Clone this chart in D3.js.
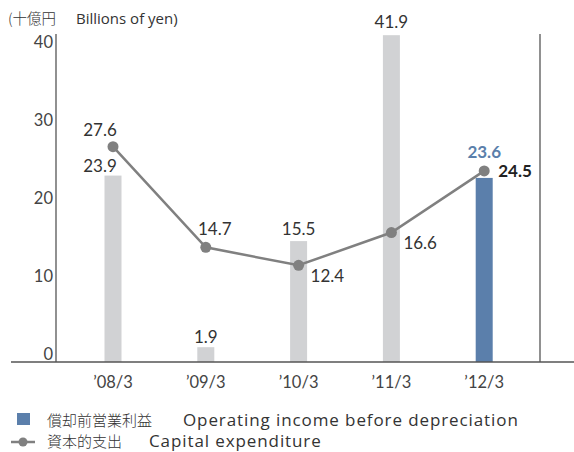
<!DOCTYPE html>
<html>
<head>
<meta charset="utf-8">
<script src="https://cdn.jsdelivr.net/npm/d3@7"></script>
<style>
  html, body { margin: 0; padding: 0; background: #fff; }
  svg { display: block; }
  text { font-family: Lato, "Noto Sans CJK JP", sans-serif; }
  .cjk { font-family: "Noto Sans CJK JP", sans-serif; font-weight: 300; }
  .en { font-family: "Open Sans", Lato, sans-serif; }
</style>
</head>
<body>
<svg id="chart" width="574" height="452"></svg>
<script>
// ---- data ----
const categories = ["’08/3", "’09/3", "’10/3", "’11/3", "’12/3"];
const operatingIncome = [23.9, 1.9, 15.5, 41.9, 23.6];      // bars
const capitalExpenditure = [27.6, 14.7, 12.4, 16.6, 24.5];  // line
const yTicks = [0, 10, 20, 30, 40];
const unitLabel = ["(十億円", "Billions of yen)"];
const legendBar = ["償却前営業利益", "Operating income before depreciation"];
const legendLine = ["資本的支出", "Capital expenditure"];

// ---- label placement (style, not data) ----
const barLabelOffset = [[-13, -4], [0, -4], [0, -6], [0, -7], [0, -20]];
const lineLabelOffset = [[-13, -11, "middle"], [9, -12, "middle"], [12, 17, "start"], [12, 16, "start"], [14, 6, "start"]];

const svg = d3.select("#chart");
const grey = "#d1d2d4", blue = "#5b7fab", lineCol = "#808080", axisCol = "#555";

const x = d3.scaleBand().domain(categories).range([66.6, 530.6]).padding(0);
const y = d3.scaleLinear().domain([0, 40]).range([362, 50]);
const barW = 17;
const cx = d => x(d) + x.bandwidth() / 2;

// unit label
svg.append("text").attr("class", "cjk").attr("x", 8).attr("y", 24).attr("font-size", 14.5).attr("fill", "#333").text(unitLabel[0]);
svg.append("text").attr("class", "en").attr("x", 76).attr("y", 24).attr("font-size", 15).attr("fill", "#333").text(unitLabel[1]);

// bars
svg.selectAll("rect.bar").data(categories).join("rect")
  .attr("class", "bar")
  .attr("x", d => cx(d) - barW / 2)
  .attr("width", barW)
  .attr("y", (d, i) => y(operatingIncome[i]))
  .attr("height", (d, i) => y(0) - y(operatingIncome[i]))
  .attr("fill", (d, i) => i === categories.length - 1 ? blue : grey);

// axes
const yAxis = d3.axisLeft(y).tickValues(yTicks).tickSize(0).tickPadding(3);
const gy = svg.append("g").attr("transform", "translate(56,0)").call(yAxis);
gy.select(".domain").remove();
gy.selectAll("text").attr("font-size", 16.5).attr("fill", "#444").attr("font-family", "Lato, sans-serif").attr("dy", "-0.15em");
svg.append("line").attr("x1", 56).attr("x2", 56).attr("y1", 34).attr("y2", y(0)).attr("stroke", axisCol).attr("stroke-width", 1.3);
svg.append("line").attr("x1", 540).attr("x2", 540).attr("y1", 34).attr("y2", y(0)).attr("stroke", axisCol).attr("stroke-width", 1.3);

const xAxis = d3.axisBottom(x).tickSize(0).tickPadding(14);
const gx = svg.append("g").attr("transform", `translate(0,${y(0)})`).call(xAxis);
gx.select(".domain").remove();
gx.selectAll("text").attr("font-size", 16.5).attr("fill", "#444").attr("font-family", "Lato, sans-serif");
svg.append("line").attr("x1", 11).attr("x2", 574).attr("y1", y(0)).attr("y2", y(0)).attr("stroke", axisCol).attr("stroke-width", 1.3);

// line
const line = d3.line().x((d, i) => cx(categories[i])).y(d => y(d));
svg.append("path").datum(capitalExpenditure).attr("d", line)
  .attr("fill", "none").attr("stroke", lineCol).attr("stroke-width", 2.5);
svg.selectAll("circle.pt").data(capitalExpenditure).join("circle")
  .attr("class", "pt")
  .attr("cx", (d, i) => cx(categories[i])).attr("cy", d => y(d)).attr("r", 5.5).attr("fill", lineCol);

// bar labels
svg.selectAll("text.bl").data(operatingIncome).join("text")
  .attr("class", "bl")
  .attr("x", (d, i) => cx(categories[i]) + barLabelOffset[i][0])
  .attr("y", (d, i) => y(d) + barLabelOffset[i][1])
  .attr("text-anchor", "middle")
  .attr("font-size", 17)
  .attr("font-weight", (d, i) => i === categories.length - 1 ? "bold" : "normal")
  .attr("fill", (d, i) => i === categories.length - 1 ? blue : "#333")
  .text(d => d.toFixed(1));

// line labels
svg.selectAll("text.ll").data(capitalExpenditure).join("text")
  .attr("class", "ll")
  .attr("x", (d, i) => cx(categories[i]) + lineLabelOffset[i][0])
  .attr("y", (d, i) => y(d) + lineLabelOffset[i][1])
  .attr("text-anchor", (d, i) => lineLabelOffset[i][2])
  .attr("font-size", 17)
  .attr("font-weight", (d, i) => i === categories.length - 1 ? "bold" : "normal")
  .attr("fill", (d, i) => i === categories.length - 1 ? "#222" : "#333")
  .text(d => d.toFixed(1));

// legend
const lg = svg.append("g");
lg.append("rect").attr("x", 17).attr("y", 413).attr("width", 13).attr("height", 12).attr("fill", blue);
lg.append("text").attr("class", "cjk").attr("x", 47).attr("y", 426).attr("font-size", 15).attr("fill", "#333").text(legendBar[0]);
lg.append("text").attr("class", "en").attr("x", 183).attr("y", 426).attr("font-size", 17).attr("letter-spacing", 0.9).attr("fill", "#333").text(legendBar[1]);
lg.append("line").attr("x1", 11).attr("x2", 35).attr("y1", 442).attr("y2", 442).attr("stroke", lineCol).attr("stroke-width", 2.5);
lg.append("circle").attr("cx", 23).attr("cy", 442).attr("r", 4.5).attr("fill", lineCol);
lg.append("text").attr("class", "cjk").attr("x", 47).attr("y", 447).attr("font-size", 15).attr("fill", "#333").text(legendLine[0]);
lg.append("text").attr("class", "en").attr("x", 149).attr("y", 447).attr("font-size", 17).attr("letter-spacing", 0.9).attr("fill", "#333").text(legendLine[1]);
</script>
</body>
</html>
